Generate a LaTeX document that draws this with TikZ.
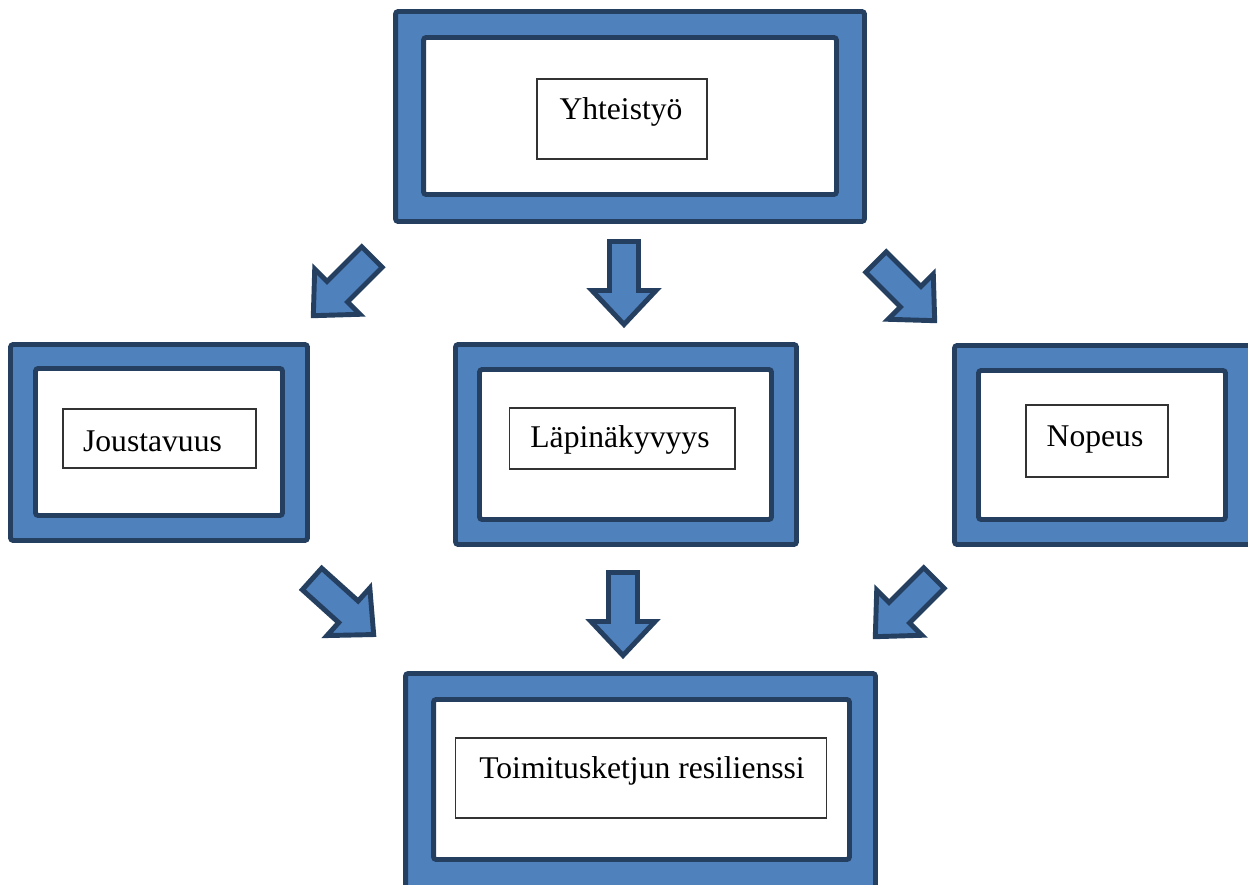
\documentclass[tikz,border=0pt]{standalone}
\usepackage{fontspec}
\setmainfont{Liberation Serif}
\usepackage{tikz}
\usetikzlibrary{positioning}
\definecolor{boxblue}{HTML}{4F81BD}
\definecolor{boxline}{HTML}{243F60}

\begin{document}
\begin{tikzpicture}[
  x=0.02cm, y=-0.02cm,
  every node/.style={font=\fontsize{18}{22}\selectfont},
  outerframe/.style={draw=boxline, line width=2.8pt, fill=boxblue, rounded corners=1.5pt, inner sep=0pt},
  innerframe/.style={draw=boxline, line width=2.8pt, fill=white, rounded corners=1.5pt, inner sep=0pt},
  textframe/.style={draw=black!80, line width=0.6pt, fill=white, inner sep=0pt},
  boxtext/.style={anchor=base, inner sep=0pt},
  blockarrow/.style={draw=boxline, line width=2.8pt, fill=boxblue, line join=miter}
]
\useasboundingbox[fill=white] (0,0) rectangle (1248,885);

\node[outerframe, minimum width=9.38cm, minimum height=4.2cm]  (Yout) at (630,116.5) {};
\node[innerframe, minimum width=8.26cm, minimum height=3.14cm] (Yin)  at (630,116)   {};
\node[textframe,  minimum width=3.4cm,  minimum height=1.6cm]  (Ybox) at (622,119)   {};
\node[boxtext] (Ytxt) at (621,120) {Yhteistyö};

\node[outerframe, minimum width=5.94cm, minimum height=3.92cm] (Jout) at (159,442.5) {};
\node[innerframe, minimum width=4.94cm, minimum height=2.94cm] (Jin)  at (159,442)   {};
\node[textframe,  minimum width=3.86cm, minimum height=1.18cm] (Jbox) at (159.5,438.5) {};
\node[boxtext] (Jtxt) at (152.5,451) {Joustavuus};

\node[outerframe, minimum width=6.82cm, minimum height=4.0cm]  (Lout) at (626,444.5) {};
\node[innerframe, minimum width=5.84cm, minimum height=3.0cm]  (Lin)  at (625.5,444.5) {};
\node[textframe,  minimum width=4.52cm, minimum height=1.22cm] (Lbox) at (622,438.5) {};
\node[boxtext] (Ltxt) at (620,447) {Läpinäkyvyys};

\node[outerframe, minimum width=6.11cm, minimum height=3.98cm] (Nout) at (1107.25,445) {};
\node[innerframe, minimum width=4.94cm, minimum height=2.98cm] (Nin)  at (1102,445)  {};
\node[textframe,  minimum width=2.84cm, minimum height=1.44cm] (Nbox) at (1097,441)  {};
\node[boxtext] (Ntxt) at (1095,446) {Nopeus};

\node[outerframe, minimum width=9.4cm,  minimum height=4.53cm] (Tout) at (640.5,786.75) {};
\node[innerframe, minimum width=8.32cm, minimum height=3.2cm]  (Tin)  at (641.5,779.5) {};
\node[textframe,  minimum width=7.44cm, minimum height=1.6cm]  (Tbox) at (641,778)   {};
\node[boxtext] (Ttxt) at (642,778) {Toimitusketjun resilienssi};

\foreach \ax/\ay/\ang in {624/241.5/0, 372/257/-45, 876/262/45,
                          312/579/48, 623/572.5/0, 934/578/-45}
  \draw[blockarrow, shift={(\ax,\ay)}, rotate=\ang]
    (-14.5,0) -- (14.5,0) -- (14.5,49) -- (32,49) -- (0,83)
    -- (-32,49) -- (-14.5,49) -- cycle;
\end{tikzpicture}
\end{document}
